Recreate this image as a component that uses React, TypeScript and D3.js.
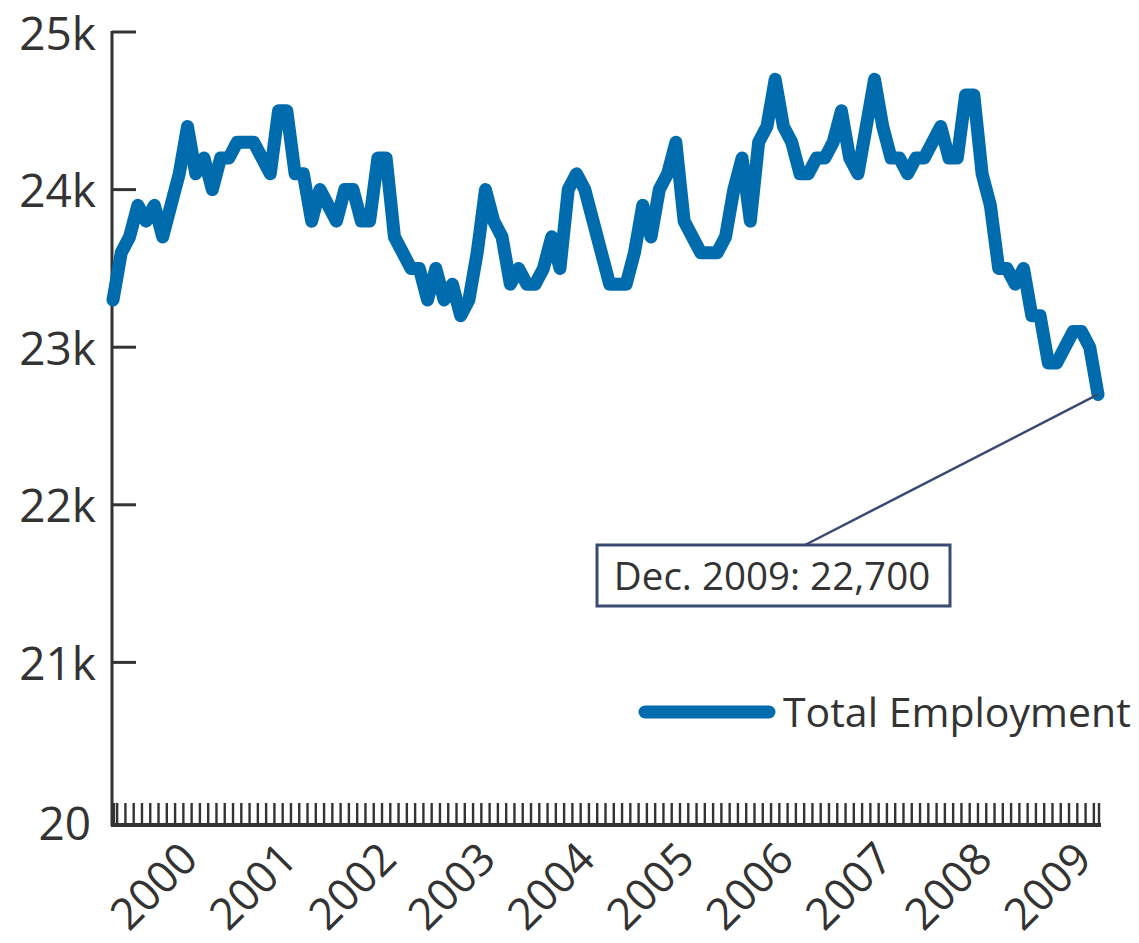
import { useEffect, useRef } from "react";
import * as d3 from "d3";

// monthly total employment, Jan 2000 - Dec 2009 (thousands)
const employment = [
  23.3, 23.6, 23.7, 23.9, 23.8, 23.9, 23.7, 23.9, 24.1, 24.4, 24.1, 24.2,
  24.0, 24.2, 24.2, 24.3, 24.3, 24.3, 24.2, 24.1, 24.5, 24.5, 24.1, 24.1,
  23.8, 24.0, 23.9, 23.8, 24.0, 24.0, 23.8, 23.8, 24.2, 24.2, 23.7, 23.6,
  23.5, 23.5, 23.3, 23.5, 23.3, 23.4, 23.2, 23.3, 23.6, 24.0, 23.8, 23.7,
  23.4, 23.5, 23.4, 23.4, 23.5, 23.7, 23.5, 24.0, 24.1, 24.0, 23.8, 23.6,
  23.4, 23.4, 23.4, 23.6, 23.9, 23.7, 24.0, 24.1, 24.3, 23.8, 23.7, 23.6,
  23.6, 23.6, 23.7, 24.0, 24.2, 23.8, 24.3, 24.4, 24.7, 24.4, 24.3, 24.1,
  24.1, 24.2, 24.2, 24.3, 24.5, 24.2, 24.1, 24.4, 24.7, 24.4, 24.2, 24.2,
  24.1, 24.2, 24.2, 24.3, 24.4, 24.2, 24.2, 24.6, 24.6, 24.1, 23.9, 23.5,
  23.5, 23.4, 23.5, 23.2, 23.2, 22.9, 22.9, 23.0, 23.1, 23.1, 23.0, 22.7,
];
const years = ["2000", "2001", "2002", "2003", "2004", "2005", "2006", "2007", "2008", "2009"];
const yTicks = [20, 21, 22, 23, 24, 25];
const yTickLabels = ["20", "21k", "22k", "23k", "24k", "25k"];
const seriesName = "Total Employment";
const calloutText = "Dec. 2009: 22,700";

const W = 1139;
const H = 943;
const BLUE = "#006cae";
const INK = "#333333";
const NAVY = "#3b4a73";
const FONT = "'Open Sans', 'DejaVu Sans', sans-serif";

export default function App() {
  const svgRef = useRef<SVGSVGElement>(null);

  useEffect(() => {
    if (!svgRef.current) return;
    const svg = d3.select(svgRef.current);
    svg.selectAll("*").remove();

    const x = d3.scaleLinear().domain([0, employment.length - 1]).range([113, 1098]);
    const y = d3.scaleLinear().domain([20, 25]).range([820, 32]);

    // y axis
    svg.append("line")
      .attr("x1", 112).attr("x2", 112)
      .attr("y1", y(25) - 1).attr("y2", 826)
      .attr("stroke", INK).attr("stroke-width", 3);

    svg.selectAll(".ytick")
      .data(yTicks.filter((d) => d > 20))
      .enter()
      .append("line")
      .attr("x1", 112).attr("x2", 136)
      .attr("y1", (d) => y(d)).attr("y2", (d) => y(d))
      .attr("stroke", INK).attr("stroke-width", 3);

    // labels sit on their baseline, ~0.36em below the tick value
    svg.selectAll(".ylab")
      .data(yTicks)
      .enter()
      .append("text")
      .attr("x", (d) => (d === 20 ? 91 : 96))
      .attr("y", (d) => y(d) + (d === 20 ? 20 : 17.5))
      .attr("text-anchor", "end")
      .attr("font-family", FONT)
      .attr("font-size", 46)
      .attr("fill", INK)
      .text((d, i) => yTickLabels[i]);

    // x axis with monthly ticks
    svg.append("line")
      .attr("x1", 111).attr("x2", 1101)
      .attr("y1", 825).attr("y2", 825)
      .attr("stroke", INK).attr("stroke-width", 4);

    const monthTicks = d3.range(employment.length + 1).map((i) => i - 0.5);
    svg.selectAll(".xtick")
      .data(monthTicks)
      .enter()
      .append("line")
      .attr("x1", (d) => Math.min(Math.max(x(d), 114), 1099))
      .attr("x2", (d) => Math.min(Math.max(x(d), 114), 1099))
      .attr("y1", 803).attr("y2", 825)
      .attr("stroke", INK).attr("stroke-width", 2.4);

    svg.selectAll(".xlab")
      .data(years)
      .enter()
      .append("text")
      .attr("transform", (d, i) => `translate(${x(i * 12 + 9.5) - 14},${839}) rotate(-45)`)
      .attr("text-anchor", "end")
      .attr("dy", "0.72em")
      .attr("font-family", FONT)
      .attr("font-size", 44)
      .attr("fill", INK)
      .text((d) => d);

    // series line
    const line = d3.line<number>()
      .x((d, i) => x(i))
      .y((d) => y(d));

    svg.append("path")
      .datum(employment)
      .attr("d", line)
      .attr("fill", "none")
      .attr("stroke", BLUE)
      .attr("stroke-width", 13)
      .attr("stroke-linejoin", "round")
      .attr("stroke-linecap", "round");

    // callout
    const last = employment.length - 1;
    svg.append("line")
      .attr("x1", 805).attr("y1", 545)
      .attr("x2", x(last)).attr("y2", y(employment[last]))
      .attr("stroke", NAVY).attr("stroke-width", 2.5);

    svg.append("rect")
      .attr("x", 597).attr("y", 545)
      .attr("width", 353).attr("height", 61)
      .attr("fill", "white")
      .attr("stroke", NAVY).attr("stroke-width", 3);

    svg.append("text")
      .attr("x", 772).attr("y", 576)
      .attr("dy", "0.36em")
      .attr("text-anchor", "middle")
      .attr("font-family", FONT)
      .attr("font-size", 38.5)
      .attr("fill", INK)
      .text(calloutText);

    // legend
    svg.append("line")
      .attr("x1", 645).attr("x2", 769)
      .attr("y1", 712).attr("y2", 712)
      .attr("stroke", BLUE).attr("stroke-width", 13)
      .attr("stroke-linecap", "round");

    svg.append("text")
      .attr("x", 783).attr("y", 712)
      .attr("dy", "0.36em")
      .attr("font-family", FONT)
      .attr("font-size", 41)
      .attr("fill", INK)
      .text(seriesName);
  }, []);

  return (
    <svg
      ref={svgRef}
      width={W}
      height={H}
      style={{ position: "absolute", left: 0, top: 0, background: "white" }}
    />
  );
}
